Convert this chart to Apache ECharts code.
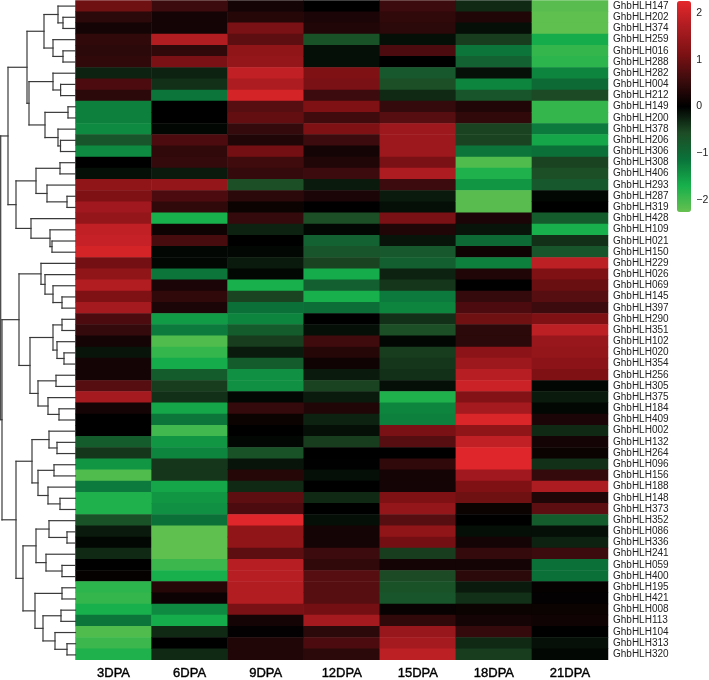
<!DOCTYPE html>
<html><head><meta charset="utf-8">
<style>html,body{margin:0;padding:0;background:#fff}#c{width:709px;height:680px}</style>
<script src="https://cdn.jsdelivr.net/npm/echarts@6/dist/echarts.min.js"></script>
</head><body><div id="c"></div>
<script>
const stages = ['3DPA','6DPA','9DPA','12DPA','15DPA','18DPA','21DPA'];
const genes = ['147','202','374','259','016','288','282','004','212','149','200','378','206','306','308','406','293','287','319','428','109','021','150','229','026','069','145','397','290','351','102','020','354','256','305','375','184','409','002','132','264','096','156','188','148','373','352','086','336','241','059','400','195','421','008','113','104','313','320'].map(n => 'GhbHLH' + n);
const dpa3 = [1.0,.4,.2,.45,.4,.45,-.25,.7,.4,-1.25,-1.25,-1.35,-.7,-1.35,0,-.1,1.35,1.15,1.55,1.4,1.9,1.95,2.1,1.05,1.35,1.75,1.15,1.6,.7,.5,.2,-.15,.2,.2,.8,1.6,.2,0,0,-.8,-.4,-1.45,-2.1,-1.2,-1.75,-1.75,-.65,-.2,-.05,-.3,0,.05,-1.85,-1.9,-1.7,-1.15,-2.1,-1.95,-1.75];
const dpa6 = [.55,.2,.2,1.75,.45,1.1,-.25,-.35,-1.15,0,0,-.05,.7,.45,.5,-.2,1.4,.7,.45,-1.7,.15,.65,-.05,-.05,-1.15,.25,.45,.25,-1.5,-1.2,-2.1,-1.9,-1.65,-.8,-.45,-.35,-1.6,-1.15,-2.0,-1.45,-1.3,-.4,-.4,-1.6,-1.45,-1.4,-1.1,-2.2,-2.2,-2.2,-1.95,-1.7,.35,.12,-1.35,-1.65,-.3,0,-.3];
const dpa9 = [.2,.35,1.1,.85,1.35,1.4,1.9,1.7,2.1,.8,.9,.5,.3,1.05,.6,.5,-.6,.4,.1,.5,-.25,0,-.05,-.2,-.05,-1.7,-.5,-1.1,-1.3,-.8,-.45,-.2,-.8,-1.4,-1.4,-.05,.5,.1,0,-.05,-.65,-.15,.35,-.3,.85,.7,2.2,1.35,1.35,.85,1.8,1.8,1.75,1.75,1.1,.2,.03,.3,.3];
const dpa12 = [0,.25,.3,-.65,-.1,-.1,1.15,1.1,.55,1.15,.6,1.15,.55,.2,.3,.55,-.2,.25,0,-.6,-.05,-.9,-.7,-.5,-1.65,-.85,-1.7,-1.05,0,-.1,.6,.35,.15,-.2,-.5,-.2,.3,-.25,-.1,-.45,0,-.01,-.1,0,-.3,0,-.1,.2,.2,.55,.45,.8,.8,.8,1.05,1.6,.4,.7,.4];
const dpa15 = [.55,.45,.4,-.1,.7,0,-.75,-.6,-.3,.5,.8,1.5,1.5,1.5,1.1,1.7,.55,-.2,-.1,1.1,.3,-.15,-.75,-.85,-.25,-.4,-1.2,-1.3,-.35,-.6,-.05,-.45,-.4,-.35,-.1,-1.75,-1.3,-1.25,1.1,.8,0,.45,.2,.2,1.15,1.4,.8,1.35,1.05,-.45,.2,-.55,-.65,-.7,.08,.45,1.45,1.6,1.85];
const dpa18 = [-.3,.3,-.1,-.45,-1.15,-.9,-.12,-1.3,-.7,.3,.45,-.5,-.5,-1.15,-2.1,-1.75,-1.45,-2.15,-2.15,.25,-.15,-1.0,.15,-1.25,.3,0,.5,.7,1.0,.4,.4,1.3,1.5,1.8,2.0,1.2,1.6,2.15,1.35,1.9,2.2,2.2,1.55,1.15,1.0,.1,0,-.1,.2,.5,.2,.4,-.2,-.35,.1,.2,.5,-.3,-.45];
const dpa21 = [-2.15,-2.2,-2.2,-1.65,-1.9,-1.85,-1.3,-1.0,-.55,-1.9,-1.9,-1.2,-1.6,-1.1,-.5,-.6,-.75,-.05,0,-.8,-1.7,-.35,-.7,1.85,1.15,.95,.8,.55,1.15,1.85,1.45,1.4,1.3,1.15,-.05,-.2,-.05,.25,-.3,.2,.1,-.35,.5,1.7,.3,.85,-.8,-.1,-.25,.55,-1.1,-1.1,.05,.03,.1,.15,0,-.12,-.05];
const scaleTicks = [-2,-1,0,1,2];
const scaleColors = ['#66c04f','#16b04c','#0a7239','#1d4c25','#000000','#3c0b0d','#7d1114','#ac1c21','#e4272b'];

// Cluster tree: [merge depth, upper child, lower child]; L is one gene, taken in row order.
const L = 0;
const clusterA = [8,
  [27,
    [44, [58, L, [63, L, L]], [53, L, [63, L, L]]],
    [29, [53, L, [60.6, L, L]], [45, [68, L, L], [58, L, [60.5, L, L]]]]],
  [16,
    [36, [60, L, L], [47, L, [67, L, L]]],
    [31, L, [50, L, [52, L, L]]]]];
const clusterB = [19,
  [41, L, [45, L, [53, L, [62, L, L]]]],
  [30,
    [53, [62, L, L], [57, L, [64, L, L]]],
    [38, [56, L, L], [48, L, [59, L, L]]]]];
const clusterC = [16,
  [32, [49, L, [57, L, L]], [38, [54, L, L], [48, L, [60, L, L]]]],
  [23,
    [36, [49, L, [67, L, L]], [46, L, [62, L, L]]],
    [35, [62, L, L], [43, [61, L, L], [55, L, [67, L, L]]]]]];
const clusterRoot = [0.7, clusterA, [2, clusterB, clusterC]];
const leafDepth = 75.5;

const columns = [dpa3, dpa6, dpa9, dpa12, dpa15, dpa18, dpa21];
const cells = [];
columns.forEach((col, c) => col.forEach((v, r) => cells.push([c, r, v])));

const segments = [];
let nextRow = 0;
function walk(node) {
  if (node === L) return { d: leafDepth, y: (nextRow++) + 0.5 };
  const a = walk(node[1]), b = walk(node[2]), d = node[0];
  segments.push([d, a.y, a.d, a.y], [d, b.y, b.d, b.y], [d, a.y, d, b.y]);
  return { d, y: (a.y + b.y) / 2 };
}
walk(clusterRoot);

const chart = echarts.init(document.getElementById('c'), null, { renderer: 'canvas' });
chart.setOption({
  animation: false,
  backgroundColor: '#fff',
  grid: [
    { left: 75.5, top: 0.5, width: 532.5, height: 660 },
    { left: 0, top: 0.5, width: 75.5, height: 660 },
    { left: 691, top: 1, width: 1, height: 211 }
  ],
  xAxis: [
    { type: 'category', gridIndex: 0, data: stages, axisLine: { show: false }, axisTick: { show: false },
      axisLabel: { color: '#000', fontFamily: 'Liberation Sans', fontSize: 13, margin: 7, textBorderColor: '#000', textBorderWidth: 0.4 } },
    { type: 'value', gridIndex: 1, min: 0, max: leafDepth, show: false },
    { type: 'value', gridIndex: 2, min: 0, max: 1, show: false }
  ],
  yAxis: [
    { type: 'category', gridIndex: 0, data: genes, inverse: true, position: 'right', axisLine: { show: false }, axisTick: { show: false },
      axisLabel: { interval: 0, color: '#222', fontFamily: 'Liberation Sans', fontSize: 10, margin: 5 } },
    { type: 'value', gridIndex: 1, min: 0, max: genes.length, inverse: true, show: false },
    { type: 'value', gridIndex: 2, min: -2.25, max: 2.25, position: 'right', splitLine: { show: false },
      axisLine: { show: false }, axisTick: { show: false },
      axisLabel: { customValues: scaleTicks, color: '#222', fontFamily: 'Liberation Sans', fontSize: 10.5, margin: 5,
        formatter: v => String(v).replace('-', '\u2212') } }
  ],
  visualMap: {
    type: 'continuous', seriesIndex: 0, dimension: 2, min: -2.25, max: 2.25,
    left: 677, top: 1, padding: 0, itemWidth: 14, itemHeight: 211, calculable: false, text: null,
    inRange: { color: scaleColors }, hoverLink: false
  },
  series: [
    { type: 'heatmap', xAxisIndex: 0, yAxisIndex: 0, data: cells, silent: true, progressive: 0, itemStyle: { borderWidth: 0 } },
    { type: 'custom', xAxisIndex: 1, yAxisIndex: 1, silent: true, data: segments,
      encode: { x: [0, 2], y: [1, 3] },
      renderItem: (params, api) => {
        const p = api.coord([api.value(0), api.value(1)]);
        const q = api.coord([api.value(2), api.value(3)]);
        return { type: 'line', shape: { x1: p[0], y1: p[1], x2: q[0], y2: q[1] },
                 style: { stroke: '#3a3a3a', lineWidth: 1.2, lineCap: 'square' } };
      } },
    { type: 'line', xAxisIndex: 2, yAxisIndex: 2, data: [], silent: true }
  ]
});
</script></body></html>
